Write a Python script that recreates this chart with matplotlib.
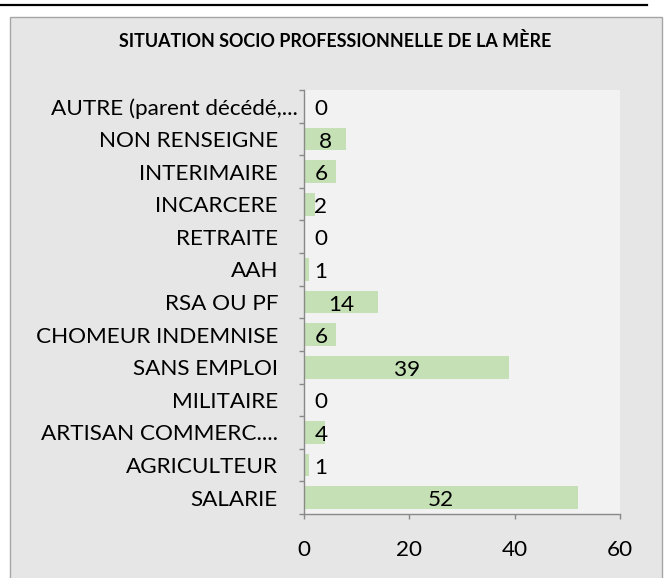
import matplotlib
matplotlib.use("Agg")
import matplotlib.pyplot as plt
from matplotlib.patches import Rectangle
from matplotlib.lines import Line2D
from matplotlib.transforms import ScaledTranslation

categories = ["SALARIE", "AGRICULTEUR", "ARTISAN COMMERC....", "MILITAIRE",
              "SANS EMPLOI", "CHOMEUR INDEMNISE", "RSA OU PF", "AAH",
              "RETRAITE", "INCARCERE", "INTERIMAIRE", "NON RENSEIGNE",
              "AUTRE (parent décédé,..."]
values = [52, 1, 4, 0, 39, 6, 14, 1, 0, 2, 6, 8, 0]
title = "SITUATION SOCIO PROFESSIONNELLE DE LA MÈRE"
xticks = [0, 20, 40, 60]

FONT = "Lato"
FS = 16.2
W, H = 668, 578
fig = plt.figure(figsize=(W / 100, H / 100), dpi=100)
fig.patch.set_facecolor("white")

# chart frame
fig.patches.append(Rectangle((10 / W, -0.05), 652 / W, 1 - 17 / H + 0.05,
                             transform=fig.transFigure, facecolor="#e7e6e6",
                             edgecolor="#a6a6a6", linewidth=1.0, zorder=-5))
fig.lines.append(Line2D([0, 647 / W], [1 - 5 / H, 1 - 5 / H],
                        transform=fig.transFigure, color="black", linewidth=1.6))

ax = fig.add_axes([304 / W, 1 - 514 / H, 316 / W, 424 / H])
ax.set_zorder(2)
ax.set_facecolor("#f2f2f2")
y = list(range(len(categories)))
ax.barh(y, values, height=0.7, color="#c5e0b4", zorder=2)
ax.set_xlim(0, 60)
ax.set_ylim(-0.5, len(categories) - 0.5)

ax.set_xticks(xticks)
ax.set_xticklabels([str(t) for t in xticks], fontsize=FS, family=FONT)
ax.set_yticks([i - 0.5 for i in range(len(categories) + 1)])
ax.set_yticklabels([])
ax.set_yticks(y, minor=True)
ax.set_yticklabels(categories, minor=True, fontsize=FS, family=FONT)
ax.tick_params(axis="y", which="minor", length=0, pad=18.7)
ax.tick_params(axis="y", which="major", length=3.6, color="#898989", width=1)
ax.tick_params(axis="x", length=3.6, color="#898989", width=1, pad=15)

# the long truncated label overflows toward the axis, as in the original
last = ax.get_yticklabels(minor=True)[-1]
last.set_transform(last.get_transform() + ScaledTranslation(0.2, 0, fig.dpi_scale_trans))

for s in ["top", "right"]:
    ax.spines[s].set_visible(False)
for s in ["left", "bottom"]:
    ax.spines[s].set_color("#898989")
    ax.spines[s].set_linewidth(1)

for yi, v in zip(y, values):
    ax.text(max(v / 2, 3.2), yi - 0.08, str(v), ha="center", va="center",
            fontsize=FS, family=FONT, color="black", zorder=3)

fig.text(335 / W, 1 - 41 / H, title, ha="center", va="center",
         fontsize=12.9, fontweight="bold", family=FONT)

fig.savefig("out.png", dpi=100)
